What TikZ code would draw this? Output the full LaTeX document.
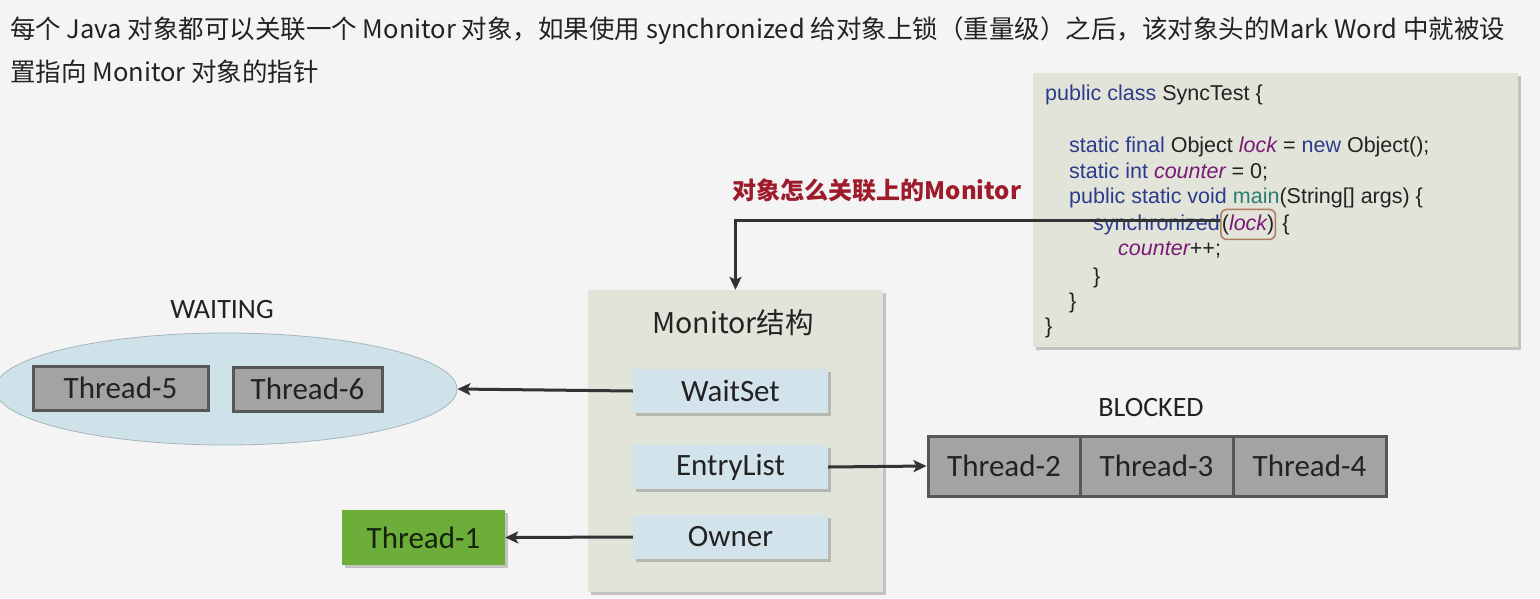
\documentclass[tikz,border=0pt]{standalone}
\usepackage{fontspec}
\setmainfont{Noto Sans CJK SC}
\newfontfamily\calfont{Carlito}
\newfontfamily\codefont{Liberation Sans}
\usetikzlibrary{arrows.meta,shadows,calc,shapes.geometric}
\definecolor{bg}{HTML}{F4F4F4}
\definecolor{txt}{HTML}{222222}
\definecolor{panel}{HTML}{E1E4D8}
\definecolor{codebg}{HTML}{E2E4D9}
\definecolor{lblue}{HTML}{D3E3EB}
\definecolor{ellfill}{HTML}{CFE2EA}
\definecolor{tgray}{HTML}{A3A3A3}
\definecolor{tborder}{HTML}{575757}
\definecolor{tgreen}{HTML}{6DAD3A}
\definecolor{t1txt}{HTML}{16240E}
\definecolor{redlbl}{HTML}{9E1B2B}
\definecolor{kw}{HTML}{2C3C8C}
\definecolor{var}{HTML}{7A1A78}
\definecolor{mth}{HTML}{2E7D6E}
\definecolor{lockbd}{HTML}{B07A5C}
\definecolor{conncol}{HTML}{333333}
\tikzset{
  shad/.style={drop shadow={shadow xshift=3pt,shadow yshift=-3pt,opacity=0.35,fill=black!60}},
  lbl/.style={font=\calfont\fontsize{31}{36}\selectfont, text=txt},
  threadbox/.style={lbl, draw=tborder, line width=3pt, fill=tgray, minimum height=44pt, inner sep=0pt},
  fieldbox/.style={lbl, fill=lblue, minimum width=195pt, minimum height=44pt, inner sep=0pt, shad},
  codeline/.style={font=\codefont\fontsize{21.5}{25}\selectfont, text=txt, inner sep=0pt, anchor=base west},
  conn/.style={draw=conncol, line width=3pt, -{Stealth[length=13pt,width=12pt,inset=3pt]}},
  state/.style={font=\calfont\fontsize{28}{32}\selectfont, text=txt},
  toptext/.style={anchor=base west, inner sep=0pt, text=txt, font=\fontsize{25.5}{30}\selectfont},
}
\begin{document}
\begin{tikzpicture}[x=1pt,y=-1pt]
\path[use as bounding box, fill=bg] (0,0) rectangle (1540,598);

% top text
\node[toptext] (top1) at (10,38)
  {每个 Java 对象都可以关联一个 Monitor 对象，如果使用 synchronized 给对象上锁（重量级）之后，该对象头的Mark Word 中就被设};
\node[toptext] (top2) at (10,81)
  {置指向 Monitor 对象的指针};

% code box
\node[fill=codebg, minimum width=485pt, minimum height=274pt, inner sep=0pt, shad] (cb) at (1275.5,210) {};
\node[codeline] (c1) at (1045,100) {\textcolor{kw}{public class} SyncTest \{};
\node[codeline] (c2) at (1069,152) {\textcolor{kw}{static final} Object \textcolor{var}{\itshape lock} = \textcolor{kw}{new} Object();};
\node[codeline] (c3) at (1069,178) {\textcolor{kw}{static int} \textcolor{var}{\itshape counter} = 0;};
\node[codeline] (c4) at (1069,203) {\textcolor{kw}{public static void} \textcolor{mth}{main}(String[] args) \{};
\node[codeline] (c5) at (1093,230) {\textcolor{kw}{synchronized}\ };
\node[codeline, draw=lockbd, line width=1.5pt, rounded corners=6pt, inner xsep=1pt, inner ysep=5pt] (lk) at (c5.base east) {(\textcolor{var}{\itshape lock})};
\node[codeline] (c5b) at (lk.base east) {\ \{};
\node[codeline] (c6) at (1118,255) {\textcolor{var}{\itshape counter}++;};
\node[codeline] (c7) at (1093,283) {\}};
\node[codeline] (c8) at (1069,308) {\}};
\node[codeline] (c9) at (1045,333) {\}};

% red label
\node[text=redlbl, font=\bfseries\fontsize{24}{28}\selectfont, inner sep=0pt] (ql) at (877,190) {对象怎么关联上的Monitor};

% monitor panel
\node[fill=panel, minimum width=295pt, minimum height=302pt, inner sep=0pt, shad] (mon) at (735.5,441) {};
\node[text=txt, font=\fontsize{28.5}{32}\selectfont, inner sep=0pt] (mt) at (733,323) {Monitor结构};
\node[fieldbox] (ws) at (730.5,391) {WaitSet};
\node[fieldbox] (el) at (730.5,467) {EntryList};
\node[fieldbox] (ow) at (730.5,537) {Owner};

% waiting
\node[state] (wl) at (222,310) {WAITING};
\node[ellipse, fill=ellfill, draw=ellfill!80!black, line width=0.8pt, minimum width=462pt, minimum height=112pt, inner sep=0pt] (wait) at (226,389) {};
\node[threadbox, minimum width=175pt] (t5) at (120.5,388) {Thread-5};
\node[threadbox, minimum width=149pt] (t6) at (307.5,389) {Thread-6};

% blocked
\node[state] (bl) at (1151,408) {BLOCKED};
\node[threadbox, minimum width=152pt, minimum height=60pt] (t2) at (1004,466) {Thread-2};
\node[threadbox, minimum width=153pt, minimum height=60pt] (t3) at (1156.5,466) {Thread-3};
\node[threadbox, minimum width=153pt, minimum height=60pt] (t4) at (1309.5,466) {Thread-4};

% owner thread
\node[lbl, fill=tgreen, minimum width=163pt, minimum height=55pt, inner sep=0pt, shad, text=t1txt] (t1) at (423.5,537.5) {Thread-1};

% connectors
\draw[conn] ([yshift=4pt]lk.west) -| (mon.north);
\draw[conn] (ws.west) -- (wait.east);
\draw[conn] (el.east) -- (t2.west);
\draw[conn] (ow.west) -- (t1.east);
\end{tikzpicture}
\end{document}
